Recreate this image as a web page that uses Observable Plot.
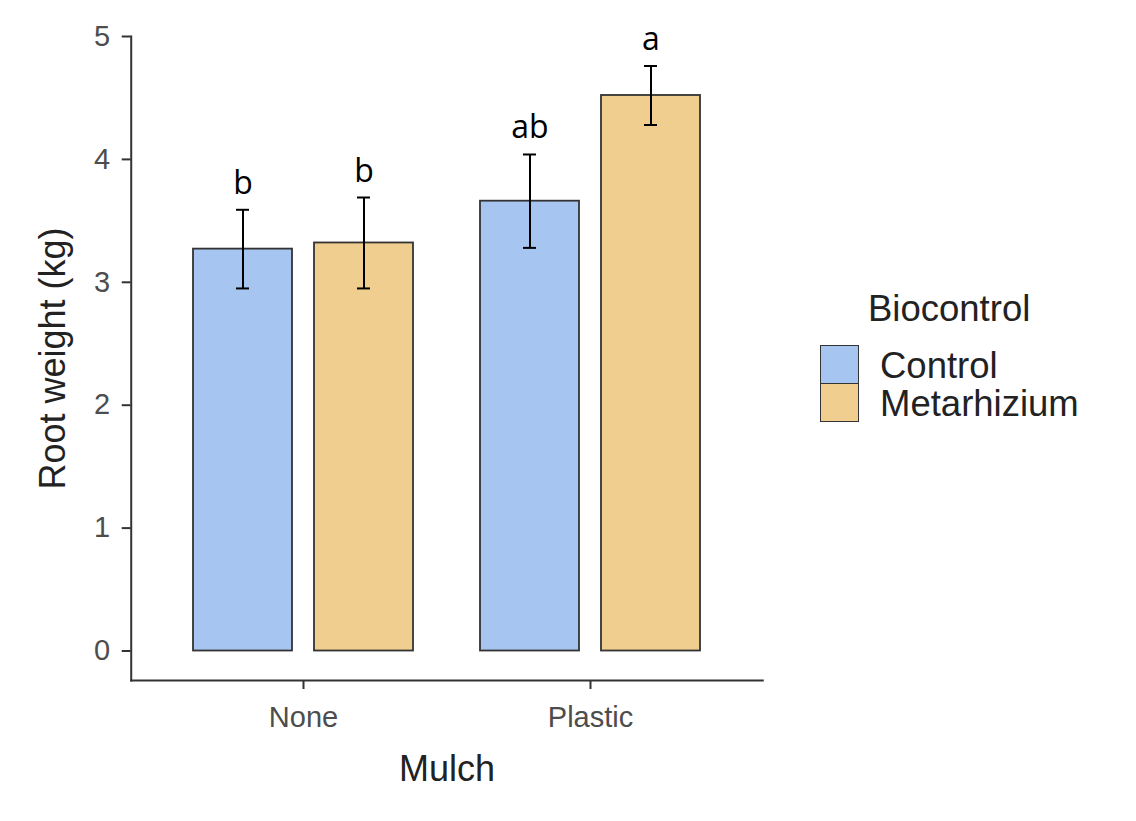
<!DOCTYPE html>
<html>
<head>
<meta charset="utf-8">
<script src="https://cdn.jsdelivr.net/npm/d3@7"></script>
<script src="https://cdn.jsdelivr.net/npm/@observablehq/plot@0.6"></script>
<style>
  body { margin: 0; background: #fff; }
  #wrap { position: relative; width: 1136px; height: 821px; }
  .lg { position: absolute; font-family: "Liberation Sans", Arial, sans-serif; color: #222; line-height: 1; white-space: nowrap; }
  .key { position: absolute; box-sizing: border-box; border: 1.8px solid #333; }
</style>
</head>
<body>
<div id="wrap"></div>
<script>
// ---- data ----
const mulch = ["None", "None", "Plastic", "Plastic"];
const biocontrol = ["Control", "Metarhizium", "Control", "Metarhizium"];
const rootWeight = [3.27, 3.32, 3.66, 4.52];
const stdError = [0.32, 0.37, 0.38, 0.24];
const letters = ["b", "b", "ab", "a"];
const mulchLevels = ["None", "Plastic"];
const biocontrolLevels = ["Control", "Metarhizium"];
const fillColors = ["#A7C5F1", "#F0CE8F"];
const yTicks = [0, 1, 2, 3, 4, 5];
const yDomain = [-0.24, 5];
const xTitle = "Mulch";
const yTitle = "Root weight (kg)";
const legendTitle = "Biocontrol";

const data = mulch.map((m, i) => ({
  mulch: m,
  bio: biocontrol[i],
  mean: rootWeight[i],
  lo: rootWeight[i] - stdError[i],
  hi: rootWeight[i] + stdError[i],
  letter: letters[i]
}));

// layout
const W = 1136, H = 821, mL = 130, mR = 373, mT = 36, mB = 141;
const fxPadIn = 0.1, fxPadOut = 0.1505;
// the axes sit on the panel's edges, not on the outer facets' edges
const fxStep = (W - mL - mR) / (mulchLevels.length - fxPadIn + 2 * fxPadOut);
const panelShift = -fxStep * fxPadOut;
const axisStyle = { stroke: "#333", strokeWidth: 2 };

const plot = Plot.plot({
  width: W,
  height: H,
  marginLeft: mL,
  marginRight: mR,
  marginTop: mT,
  marginBottom: mB,
  style: { fontFamily: "'Liberation Sans', Arial, sans-serif", background: "white", overflow: "visible" },
  fx: { domain: mulchLevels, paddingInner: fxPadIn, paddingOuter: fxPadOut, label: null, axis: null },
  x: { domain: biocontrolLevels, paddingInner: 0.181, paddingOuter: 0.15, axis: null },
  y: { domain: yDomain, axis: null },
  color: { domain: biocontrolLevels, range: fillColors },
  marks: [
    Plot.barY(data, { fx: "mulch", x: "bio", y: "mean", fill: "bio", stroke: "#333", strokeWidth: 1.8 }),
    Plot.ruleX(data, { fx: "mulch", x: "bio", y1: "lo", y2: "hi", stroke: "#000", strokeWidth: 2 }),
    Plot.tickY(data, { fx: "mulch", x: "bio", y: "lo", stroke: "#000", strokeWidth: 2, insetLeft: 43, insetRight: 43 }),
    Plot.tickY(data, { fx: "mulch", x: "bio", y: "hi", stroke: "#000", strokeWidth: 2, insetLeft: 43, insetRight: 43 }),
    Plot.text(data, { fx: "mulch", x: "bio", y: "hi", text: "letter", dy: -16, lineAnchor: "bottom",
      fontSize: 32, fontFamily: "'Open Sans', sans-serif", fill: "#000" }),
    Plot.axisFx({ anchor: "bottom", tickSize: 9, tickPadding: 17, fontSize: 29, stroke: "#333", fill: "#4D4D4D", strokeWidth: 2, label: null }),
    Plot.axisY({ anchor: "left", ticks: yTicks, tickFormat: "d", tickSize: 9, tickPadding: 12, fontSize: 29, dx: panelShift,
      stroke: "#333", fill: "#4D4D4D", strokeWidth: 2, label: null }),
    Plot.frame({ facet: "super", anchor: "left", insetLeft: panelShift, ...axisStyle }),
    Plot.frame({ facet: "super", anchor: "bottom", insetLeft: panelShift, insetRight: panelShift, ...axisStyle }),
    Plot.text([xTitle], { facet: "super", frameAnchor: "bottom", text: d => d, dy: 75, lineAnchor: "top", fontSize: 36, fill: "#222" }),
    Plot.text([yTitle], { facet: "super", frameAnchor: "left", text: d => d, textAnchor: "middle", rotate: -90,
      dx: panelShift - 78, fontSize: 36, fill: "#222" })
  ]
});

const wrap = document.getElementById("wrap");
wrap.appendChild(plot);

// ---- legend (HTML, colours from the plot's color scale) ----
const color = plot.scale("color");
const title = document.createElement("div");
title.className = "lg";
title.style.cssText = "left:868px;top:291px;font-size:36.5px;";
title.textContent = legendTitle;
wrap.appendChild(title);

const keyTops = [345, 383];
color.domain.forEach((name, i) => {
  const key = document.createElement("div");
  key.className = "key";
  key.style.cssText = `left:820px;top:${keyTops[i]}px;width:39px;height:39px;background:${color.apply(name)};`;
  wrap.appendChild(key);
  const lab = document.createElement("div");
  lab.className = "lg";
  lab.style.cssText = `left:880px;top:${keyTops[i] + 2}px;font-size:36.5px;height:39px;display:flex;align-items:center;`;
  lab.textContent = name;
  wrap.appendChild(lab);
});
</script>
</body>
</html>
